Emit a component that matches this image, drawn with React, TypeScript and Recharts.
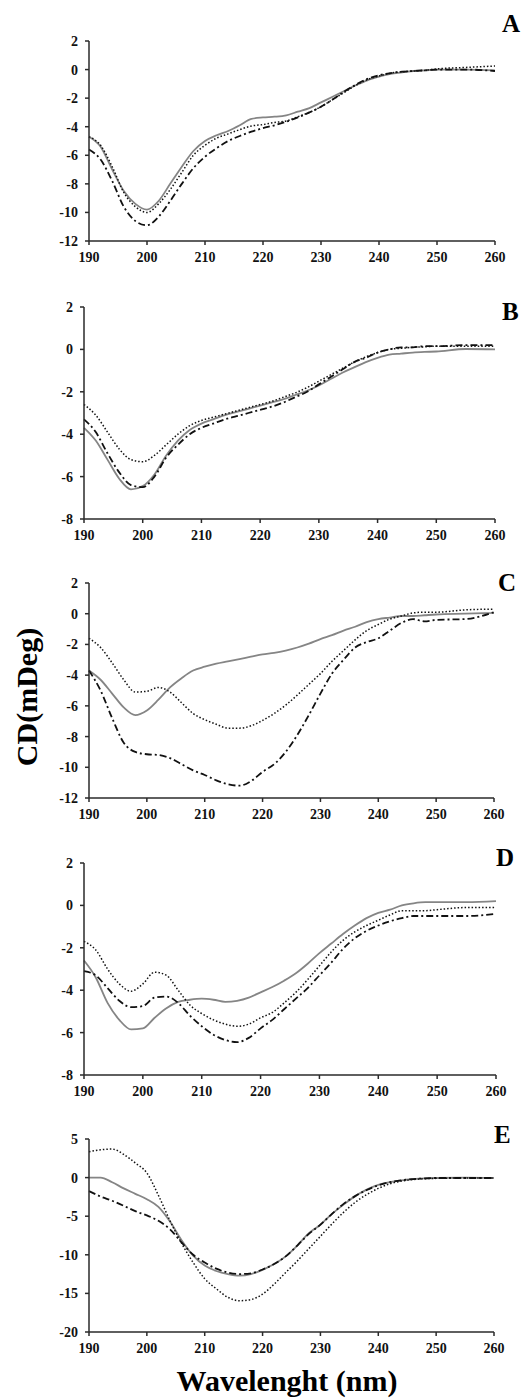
import { LineChart, Line, XAxis, YAxis } from 'recharts'

// wavelength grid (nm) shared by every panel
const wavelengths = [
  190, 192, 194, 196, 198, 200, 202, 204, 206, 208, 210, 212, 214, 216, 218, 220, 222, 224, 226, 228,
  230, 232, 234, 236, 238, 240, 242, 244, 246, 248, 250, 255, 260,
]
const xTicks = [190, 200, 210, 220, 230, 240, 250, 260]

// panel A
const aSolid = [-4.7, -5.4, -7.0, -8.5, -9.4, -9.8, -9.2, -8.0, -6.8, -5.7, -5.0, -4.6, -4.3, -3.9, -3.45, -3.35, -3.3, -3.2, -2.95, -2.7, -2.3, -1.9, -1.5, -1.1, -0.75, -0.5, -0.3, -0.2, -0.1, -0.05, 0, 0, -0.05]
const aDotted = [-4.7, -5.3, -6.8, -8.6, -9.6, -10.0, -9.4, -8.4, -7.2, -6.0, -5.3, -4.8, -4.5, -4.2, -3.95, -3.85, -3.7, -3.6, -3.3, -3.0, -2.6, -2.1, -1.6, -1.1, -0.7, -0.45, -0.25, -0.15, -0.1, -0.05, 0.05, 0.15, 0.25]
const aDashDot = [-5.6, -6.3, -7.8, -9.6, -10.6, -10.9, -10.3, -9.2, -8.0, -6.9, -6.1, -5.5, -5.0, -4.65, -4.35, -4.1, -3.9, -3.65, -3.35, -3.0, -2.6, -2.1, -1.55, -1.05, -0.65, -0.4, -0.25, -0.15, -0.1, -0.05, 0, 0, -0.1]

// panel B
const bSolid = [-3.7, -4.3, -5.2, -6.1, -6.6, -6.45, -5.9, -5.0, -4.3, -3.8, -3.5, -3.3, -3.1, -2.95, -2.8, -2.65, -2.5, -2.35, -2.15, -1.95, -1.7, -1.4, -1.1, -0.85, -0.6, -0.4, -0.25, -0.2, -0.15, -0.12, -0.1, 0.02, 0]
const bDotted = [-2.6, -3.1, -3.9, -4.7, -5.2, -5.3, -5.0, -4.5, -4.0, -3.6, -3.35, -3.2, -3.05, -2.9, -2.75, -2.6, -2.45, -2.25, -2.05, -1.8, -1.5, -1.2, -0.9, -0.6, -0.35, -0.15, 0, 0.05, 0.1, 0.12, 0.15, 0.15, 0.15]
const bDashDot = [-3.3, -3.9, -4.9, -5.8, -6.4, -6.5, -6.0, -5.1, -4.5, -4.0, -3.7, -3.5, -3.3, -3.15, -3.0, -2.85, -2.7, -2.5, -2.25, -2.0, -1.65, -1.3, -0.95, -0.6, -0.4, -0.15, 0, 0.1, 0.1, 0.15, 0.15, 0.2, 0.2]

// panel C
const cSolid = [-3.7, -4.3, -5.2, -6.1, -6.6, -6.3, -5.6, -4.8, -4.2, -3.7, -3.45, -3.25, -3.1, -2.95, -2.8, -2.65, -2.55, -2.4, -2.2, -1.95, -1.65, -1.4, -1.1, -0.85, -0.55, -0.35, -0.25, -0.15, -0.15, -0.1, -0.05, 0, 0.05]
const cDotted = [-1.6, -2.2, -3.2, -4.3, -5.1, -5.05, -4.8, -5.1, -5.8, -6.5, -6.9, -7.2, -7.45, -7.45, -7.3, -6.95, -6.5, -5.95, -5.3, -4.6, -3.9, -3.1, -2.4, -1.7, -1.1, -0.7, -0.35, -0.15, 0.05, 0.1, 0.1, 0.25, 0.3]
const cDashDot = [-3.7, -5.0, -6.8, -8.4, -9.0, -9.15, -9.2, -9.4, -9.8, -10.2, -10.5, -10.85, -11.1, -11.2, -10.9, -10.3, -9.8, -9.0, -7.9, -6.6, -5.2, -3.9, -3.0, -2.2, -1.85, -1.6, -1.1, -0.6, -0.35, -0.5, -0.4, -0.35, 0.1]

// panel D
const dSolid = [-2.6, -3.4, -4.6, -5.4, -5.85, -5.8, -5.3, -4.85, -4.55, -4.45, -4.4, -4.45, -4.55, -4.5, -4.35, -4.1, -3.85, -3.55, -3.2, -2.75, -2.25, -1.8, -1.35, -0.95, -0.6, -0.35, -0.2, 0, 0.1, 0.15, 0.15, 0.15, 0.2]
const dDotted = [-1.7, -2.1, -3.0, -3.7, -4.05, -3.7, -3.15, -3.3, -4.0, -4.7, -5.1, -5.4, -5.6, -5.7, -5.6, -5.3, -5.05, -4.6, -4.1, -3.5, -2.85, -2.2, -1.65, -1.25, -0.95, -0.7, -0.45, -0.25, -0.25, -0.25, -0.2, -0.1, -0.1]
const dDashDot = [-3.1, -3.3, -3.9, -4.5, -4.8, -4.75, -4.35, -4.3, -4.6, -5.2, -5.7, -6.1, -6.35, -6.45, -6.25, -5.8, -5.4, -4.9, -4.4, -3.9, -3.3, -2.7, -2.05, -1.55, -1.2, -0.95, -0.75, -0.6, -0.5, -0.5, -0.5, -0.5, -0.4]

// panel E
const eSolid = [0, 0, -0.6, -1.4, -2.1, -2.8, -3.8, -5.7, -8.1, -10.1, -11.4, -12.1, -12.5, -12.7, -12.5, -11.95, -11.2, -10.2, -8.8, -7.2, -6.1, -4.7, -3.5, -2.4, -1.55, -0.95, -0.6, -0.35, -0.2, -0.1, -0.05, 0, -0.05]
const eDotted = [3.35, 3.6, 3.7, 3.0, 1.9, 0.6, -2.3, -5.6, -8.5, -11.0, -13.1, -14.4, -15.5, -15.95, -15.8, -15.1, -13.8, -12.3, -10.8, -9.2, -7.6, -6.0, -4.5, -3.2, -2.2, -1.4, -0.8, -0.45, -0.25, -0.15, -0.1, -0.05, -0.05]
const eDashDot = [-1.75, -2.45, -3.0, -3.65, -4.35, -4.9, -5.6, -6.7, -8.4, -10.0, -11.0, -11.8, -12.3, -12.5, -12.4, -11.9, -11.2, -10.2, -8.8, -7.3, -6.1, -4.7, -3.4, -2.4, -1.6, -1.0, -0.6, -0.35, -0.2, -0.1, -0.05, -0.05, -0.05]

const axisColor = '#2a2a2a'
const tickStyle = { fill: '#111', fontSize: 14, fontWeight: 'bold', fontFamily: 'Liberation Serif' }

interface PanelProps {
  letter: string
  solid: number[]
  dotted: number[]
  dashDot: number[]
  yMin: number
  yMax: number
  yStep: number
  left: number
  top: number
  right: number
  bottom: number
  letterX: number
  letterY: number
}

function Panel({ letter, solid, dotted, dashDot, yMin, yMax, yStep, left, top, right, bottom, letterX, letterY }: PanelProps) {
  const data = wavelengths.map((w, i) => ({ w, solid: solid[i], dotted: dotted[i], dashDot: dashDot[i] }))
  const yTicks: number[] = []
  for (let v = yMin; v <= yMax; v += yStep) yTicks.push(v)
  const padTop = 12
  const height = bottom - top + padTop + 30

  return (
    <>
      <div style={{ position: 'absolute', left: 0, top: top - padTop }}>
        <LineChart
          width={524}
          height={height}
          data={data}
          margin={{ top: padTop, right: 524 - right, left: 0, bottom: 0 }}
        >
          <XAxis
            dataKey="w"
            type="number"
            domain={[190, 260]}
            ticks={xTicks}
            height={30}
            tick={tickStyle}
            tickSize={4}
            tickMargin={7}
            axisLine={{ stroke: axisColor, strokeWidth: 1.5 }}
            tickLine={{ stroke: axisColor, strokeWidth: 1.5 }}
          />
          <YAxis
            type="number"
            domain={[yMin, yMax]}
            ticks={yTicks}
            width={left}
            tick={tickStyle}
            tickSize={4}
            tickMargin={7}
            axisLine={{ stroke: axisColor, strokeWidth: 1.5 }}
            tickLine={{ stroke: axisColor, strokeWidth: 1.5 }}
            allowDataOverflow
          />
          <Line type="monotone" dataKey="solid" stroke="#858585" strokeWidth={1.8} dot={false} isAnimationActive={false} />
          <Line type="monotone" dataKey="dotted" stroke="#111" strokeWidth={1.5} strokeDasharray="1.5 2" dot={false} isAnimationActive={false} />
          <Line type="monotone" dataKey="dashDot" stroke="#111" strokeWidth={1.8} strokeDasharray="7 3 2 3" dot={false} isAnimationActive={false} />
        </LineChart>
      </div>
      <div
        style={{
          position: 'absolute',
          left: letterX,
          top: letterY,
          fontFamily: 'Liberation Serif',
          fontWeight: 'bold',
          fontSize: 25,
          lineHeight: '25px',
          color: '#000',
        }}
      >
        {letter}
      </div>
    </>
  )
}

export default function App() {
  return (
    <div style={{ position: 'absolute', left: 0, top: 0, width: 524, height: 1399, background: '#fff', overflow: 'hidden' }}>
      <Panel letter="A" solid={aSolid} dotted={aDotted} dashDot={aDashDot} yMin={-12} yMax={2} yStep={2} left={89} top={41} right={495} bottom={241} letterX={502} letterY={11} />
      <Panel letter="B" solid={bSolid} dotted={bDotted} dashDot={bDashDot} yMin={-8} yMax={2} yStep={2} left={84} top={307} right={495} bottom={519} letterX={502} letterY={299} />
      <Panel letter="C" solid={cSolid} dotted={cDotted} dashDot={cDashDot} yMin={-12} yMax={2} yStep={2} left={89} top={583} right={494} bottom={798} letterX={498} letterY={570} />
      <Panel letter="D" solid={dSolid} dotted={dDotted} dashDot={dDashDot} yMin={-8} yMax={2} yStep={2} left={84} top={863} right={496} bottom={1075} letterX={496} letterY={845} />
      <Panel letter="E" solid={eSolid} dotted={eDotted} dashDot={eDashDot} yMin={-20} yMax={5} yStep={5} left={89} top={1139} right={494} bottom={1332} letterX={494} letterY={1122} />
      <div
        style={{
          position: 'absolute',
          left: 27,
          top: 697,
          transform: 'translate(-50%, -50%) rotate(-90deg)',
          fontFamily: 'Liberation Serif',
          fontWeight: 'bold',
          fontSize: 30,
          whiteSpace: 'nowrap',
          color: '#000',
        }}
      >
        CD(mDeg)
      </div>
      <div
        style={{
          position: 'absolute',
          left: 287,
          top: 1381,
          transform: 'translate(-50%, -50%)',
          fontFamily: 'Liberation Serif',
          fontWeight: 'bold',
          fontSize: 30,
          whiteSpace: 'nowrap',
          color: '#000',
        }}
      >
        Wavelenght (nm)
      </div>
    </div>
  )
}
